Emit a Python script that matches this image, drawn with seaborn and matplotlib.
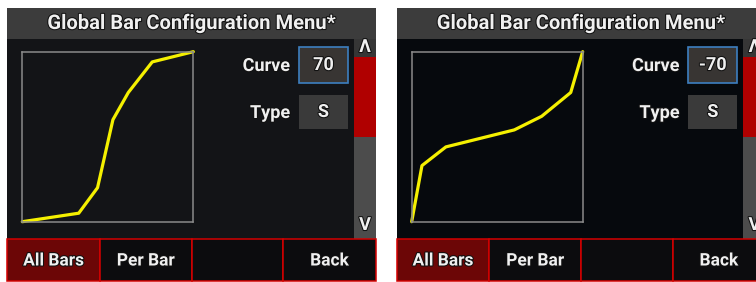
import matplotlib
matplotlib.use("Agg")
import matplotlib.pyplot as plt
import matplotlib.patheffects as pe
from matplotlib.patches import Rectangle
import seaborn as sns

# curve points (input %, output %)
left_in = [0, 33, 44, 53, 62, 76, 100]
left_out = [0, 5, 20, 60, 76, 94, 100]
right_in = [0, 6, 20, 60, 76, 93, 100]
right_out = [0, 33, 44, 54, 62, 76, 100]

curve_values = ["70", "-70"]
type_values = ["S", "S"]
button_labels = ["All Bars", "Per Bar", "", "Back"]
title = "Global Bar Configuration Menu*"

W, H = 756, 282
sns.set_theme(style="dark")
plt.rcParams['font.family'] = ['Roboto', 'DejaVu Sans']

fig = plt.figure(figsize=(W / 100, H / 100), dpi=100)
fig.patch.set_facecolor("white")
bg = fig.add_axes([0, 0, 1, 1])
bg.set_xlim(0, W)
bg.set_ylim(H, 0)
bg.axis("off")

shadow = [pe.withStroke(linewidth=1.5, foreground="#111111")]


def box(x0, y0, x1, y1, fc, ec="none", lw=0):
    bg.add_patch(Rectangle((x0, y0), x1 - x0, y1 - y0, facecolor=fc,
                           edgecolor=ec, linewidth=lw))


def label(x, y, s, size=13, ha="center", weight="bold"):
    bg.text(x, y, s, ha=ha, va="center", fontsize=size, color="#f0f0f0",
            fontweight=weight, path_effects=shadow)


def screen(dx, xs, ys, curve_val, type_val, body):
    # title bar + body
    box(dx + 7.3, 8, dx + 375.7, 38.5, "#3c3c3c")
    box(dx + 7.3, 38.5, dx + 354, 238.5, body)
    label(dx + 191.5, 23.5, title, size=14.5)

    # scrollbar
    box(dx + 354, 38.5, dx + 375.7, 57.3, "#363636")
    box(dx + 354, 57.3, dx + 375.7, 137, "#b00000")
    box(dx + 354, 137, dx + 375.7, 238.5, "#4c4c4c")
    label(dx + 365, 47, "Λ", size=13)
    label(dx + 365, 225, "V", size=13)

    # fields
    label(dx + 290, 66, "Curve", ha="right")
    box(dx + 299, 47.3, dx + 347.7, 82.7, "#383533", ec="#3d7fc0", lw=1.2)
    label(dx + 323.4, 65, curve_val)
    label(dx + 290, 113, "Type", ha="right")
    box(dx + 299, 95, dx + 347.7, 129, "#3a3a3a")
    label(dx + 323.4, 112, type_val)

    # bottom buttons
    edges = [7.3, 100, 191.7, 283.3, 375.7]
    for i, txt in enumerate(button_labels):
        fc = "#6c0606" if i == 0 else "#0c0c0e"
        box(dx + edges[i], 238.5, dx + edges[i + 1], 281, fc, ec="#d40000", lw=1.1)
        if txt:
            label(dx + (edges[i] + edges[i + 1]) / 2, 261, txt, size=12.5)

    # curve plot
    x0, y0, x1, y1 = dx + 22.3, 51.7, dx + 193.3, 221.7
    ax = fig.add_axes([x0 / W, 1 - y1 / H, (x1 - x0) / W, (y1 - y0) / H])
    ax.set_facecolor(body)
    sns.lineplot(x=xs, y=ys, ax=ax, color="#f5f000", linewidth=2.3,
                 clip_on=False, sort=False)
    ax.set_xlim(0, 100)
    ax.set_ylim(0, 100)
    ax.set_xticks([])
    ax.set_yticks([])
    ax.set_xlabel("")
    ax.set_ylabel("")
    for s in ax.spines.values():
        s.set_visible(True)
        s.set_color("#8a8a8a")
        s.set_linewidth(1.1)


screen(0, left_in, left_out, curve_values[0], type_values[0], "#131417")
screen(389.4, right_in, right_out, curve_values[1], type_values[1], "#06090d")

fig.savefig("out.png", dpi=100)
